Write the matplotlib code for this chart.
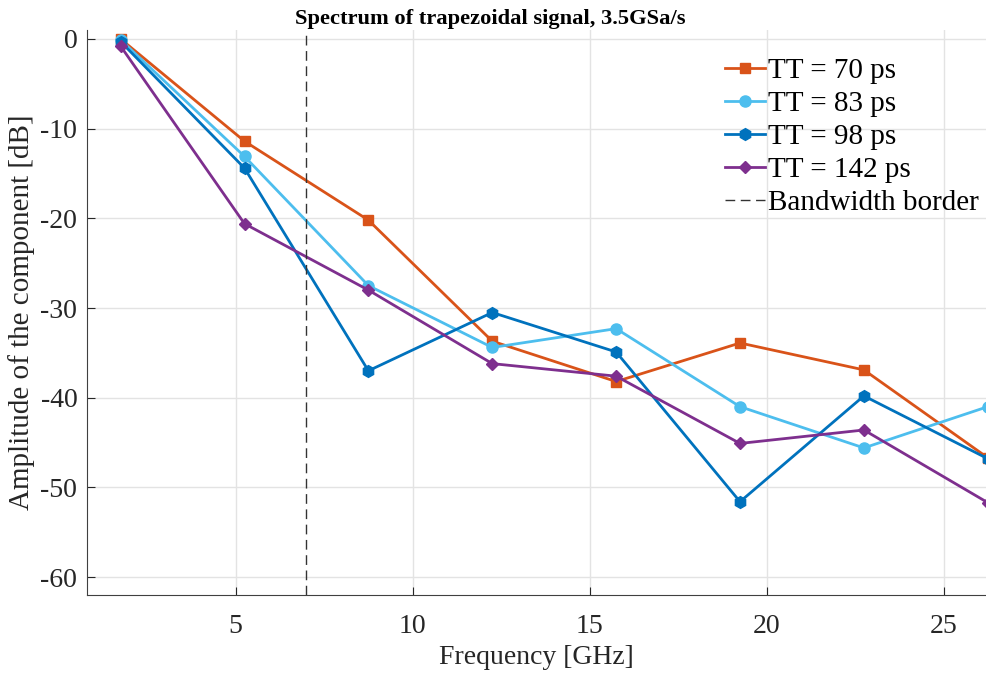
import numpy as np
import matplotlib
matplotlib.use('Agg')
import matplotlib.pyplot as plt

freq = [1.75, 5.25, 8.75, 12.25, 15.75, 19.25, 22.75, 26.25]
tt70 = [0.0, -11.4, -20.2, -33.7, -38.2, -33.9, -36.9, -46.7]
tt83 = [-0.1, -13.1, -27.5, -34.4, -32.3, -41.0, -45.6, -41.0]
tt98 = [-0.3, -14.4, -37.0, -30.5, -34.9, -51.6, -39.8, -46.8]
tt142 = [-0.8, -20.6, -28.0, -36.2, -37.6, -45.1, -43.6, -51.7]
bw_border = 7.0

plt.rcParams['font.family'] = ['Liberation Serif', 'DejaVu Serif']
plt.rcParams['axes.unicode_minus'] = False

fig = plt.figure(figsize=(9.86, 6.75), dpi=100)
ax = fig.add_axes([87 / 986, 1 - 595 / 675, 1 - 87 / 986, (595 - 30) / 675])

ax.plot(freq, tt70, color='#D95319', marker='s', ms=7.5, lw=2, label='TT = 70 ps')
ax.plot(freq, tt83, color='#4DBEEE', marker='o', ms=8, lw=2, label='TT = 83 ps')
ax.plot(freq, tt98, color='#0072BD', marker='h', ms=8.5, lw=2, label='TT = 98 ps')
ax.plot(freq, tt142, color='#7E2F8E', marker='D', ms=6.5, lw=2, label='TT = 142 ps')
ax.axvline(bw_border, color='#333333', lw=1, ls=(0, (7, 4)), label='Bandwidth border')

ax.set_xlim(0.8, 26.2)
ax.set_ylim(-62, 1)
ax.set_xticks([5, 10, 15, 20, 25])
ax.set_yticks([-60, -50, -40, -30, -20, -10, 0])
ax.grid(True, color='#E3E3E3', lw=1)
ax.set_axisbelow(True)
for s in ['top', 'right']:
    ax.spines[s].set_visible(False)
for s in ['left', 'bottom']:
    ax.spines[s].set_color('#404040')
ax.tick_params(direction='in', length=6, colors='#262626', labelsize=20)
ax.tick_params(axis='x', pad=14)
ax.tick_params(axis='y', pad=7)

ax.set_title('Spectrum of trapezoidal signal, 3.5GSa/s', fontsize=16.2, fontweight='bold', pad=4, x=0.449)
ax.set_xlabel('Frequency [GHz]', fontsize=20, color='#262626', labelpad=4)
ax.set_ylabel('Amplitude of the component [dB]', fontsize=21, color='#262626', labelpad=4)

ax.legend(loc='upper right', bbox_to_anchor=(979 / 986, 1 - 58 / 675), bbox_transform=fig.transFigure,
          frameon=False, fontsize=21, handlelength=1.37, handletextpad=0.1, labelspacing=0.22,
          borderpad=0, borderaxespad=0)

fig.savefig('out.png', dpi=100)
